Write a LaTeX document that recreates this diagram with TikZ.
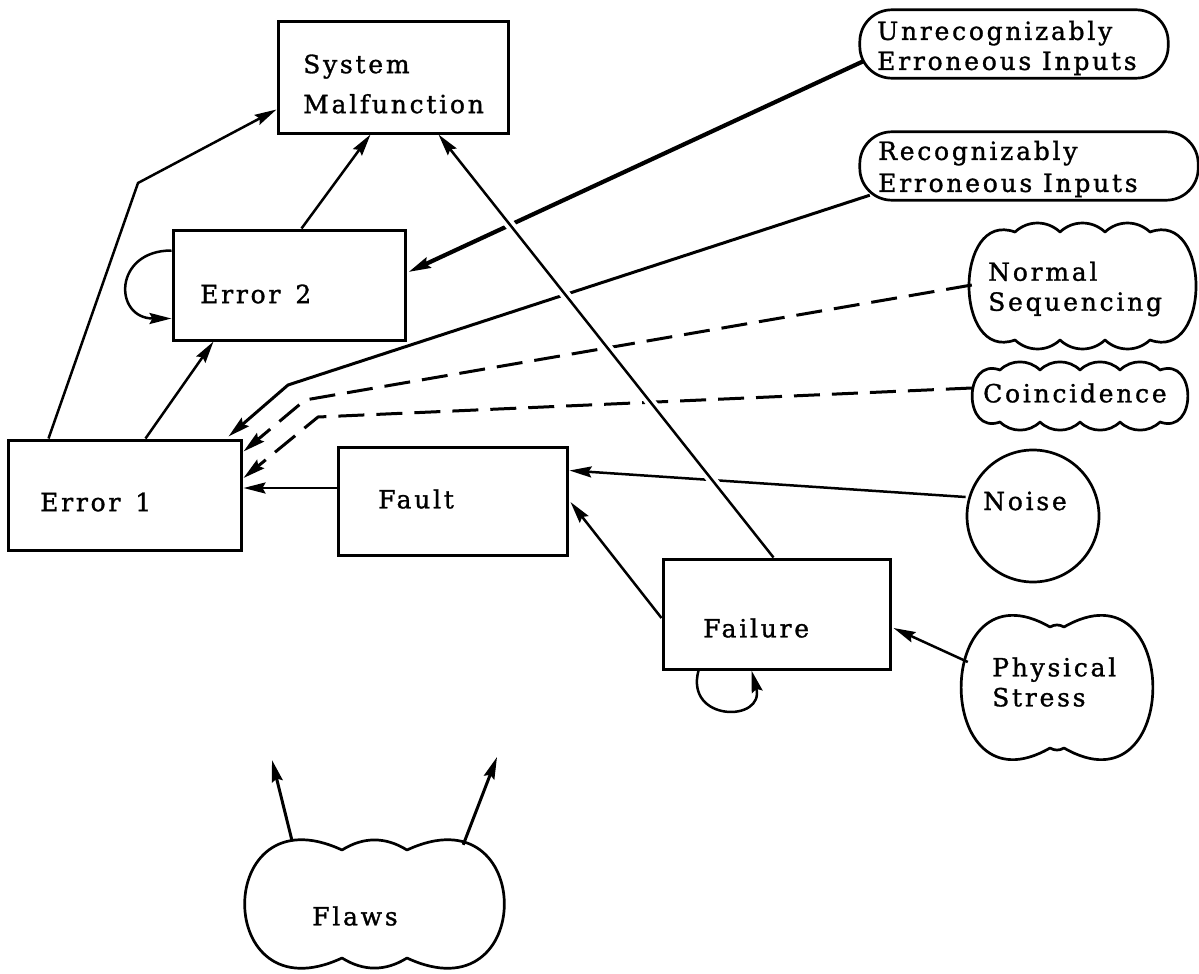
\documentclass[tikz,border=0pt]{standalone}
\usepackage{fontspec}
\setmainfont{DejaVu Serif}[LetterSpace=11, FakeBold=1.2]
\usetikzlibrary{arrows.meta,calc}

\tikzset{
  box/.style={draw, line width=3pt, inner sep=0pt},
  area/.style={inner sep=0pt},
  lbl/.style={inner sep=0pt, anchor=west, align=left, font=\fontsize{25}{30}\selectfont},
  cloudline/.style={line width=2.7pt, line join=round},
  arr/.style={-{Stealth[length=22pt,width=11pt,inset=3pt]}},
  conn/.style={line width=2.5pt, arr},
  heavy/.style={line width=4.2pt, arr},
  dashconn/.style={line width=3pt, dash pattern=on 26pt off 12pt, arr},
}

% puffy outline: top bumps from (xa,ya) to (xb,ya), bottom bumps back from (xb,yb),
% rounded lobes at both ends
\newcommand{\puffoutline}[8]{%
  \pgfmathsetmacro\pfa{180+#7}\pgfmathsetmacro\pfb{180-#7}\pgfmathsetmacro\pfc{-#7}%
  \draw[cloudline] (#1,#2)
    \foreach \k in {1,...,#5}{ to[bend left=#6] ({#1+\k*(#3-#1)/#5},#2) }
    to[out=#7,in=\pfc,looseness=#8] (#3,#4)
    \foreach \k in {1,...,#5}{ to[bend left=#6] ({#3-\k*(#3-#1)/#5},#4) }
    to[out=\pfa,in=\pfb,looseness=#8] cycle;
}

\begin{document}
\begin{tikzpicture}[x=1pt,y=-1pt]
\path[fill=white, use as bounding box] (0,0) rectangle (1199,974);

% rectangular states
\node[box, minimum width=230, minimum height=111] (sm) at (393,77.5) {};
\node[box, minimum width=232, minimum height=110] (e2) at (289,285) {};
\node[box, minimum width=233, minimum height=110] (e1) at (124.5,495) {};
\node[box, minimum width=229, minimum height=108] (fault) at (452.5,501) {};
\node[box, minimum width=227, minimum height=110] (failure) at (776.5,614) {};

% source areas (outlines drawn below)
\node[area, minimum width=308, minimum height=68] (ui) at (1014,44) {};
\node[area, minimum width=338, minimum height=68] (ri) at (1029,166) {};
\node[area, minimum width=226, minimum height=124] (ns) at (1085,285) {};
\node[area, minimum width=215, minimum height=68] (co) at (1079.5,396) {};
\node[draw, circle, line width=2.7pt, minimum size=132, inner sep=0pt] (noise) at (1033,516) {};
\node[area, minimum width=193, minimum height=140] (ps) at (1061.5,687) {};
\node[area, minimum width=265, minimum height=132] (flaws) at (374.5,904) {};

% outlines of the sources
\draw[cloudline, rounded corners=32pt] (ui.north west) rectangle (ui.south east);
\draw[cloudline, rounded corners=32pt] (ri.north west) rectangle (ri.south east);
\puffoutline{1015}{232}{1150}{340}{3}{43}{20}{1.55}
\puffoutline{1000}{370}{1160}{422}{4}{44}{20}{1.95}
\puffoutline{1050}{627}{1064}{748}{1}{30}{30}{2.9}
\puffoutline{342}{850}{407}{958}{1}{32}{25}{3.4}

% labels
\node[lbl, font=\fontsize{25}{40}\selectfont] (smt) at (303,84) {System\\Malfunction};
\node[lbl] (e2t) at (200,294) {Error\hspace{15pt}2};
\node[lbl] (e1t) at (40,502) {Error\hspace{15pt}1};
\node[lbl] (ft) at (378,499) {Fault};
\node[lbl] (flt) at (703,628) {Failure};
\node[lbl] (uit) at (877,48) {Unrecognizably\\Erroneous Inputs};
\node[lbl, font=\fontsize{25}{32}\selectfont] (rit) at (878,169) {Recognizably\\Erroneous Inputs};
\node[lbl] (nst) at (988,289) {Normal\\Sequencing};
\node[lbl] (cot) at (983,393) {Coincidence};
\node[lbl] (nt) at (983,501) {Noise};
\node[lbl] (pst) at (992,682) {Physical\\Stress};
\node[lbl] (flawst) at (312,916) {Flaws};

% connectors
\draw[conn] ($(e1.north west)+(42,0)$) -- (138,183) -- ($(sm.west)+(0,32)$);
\draw[conn] ($(e2.north west)+(130,0)$) -- ($(sm.south west)+(94,0)$);
\draw[conn] ($(e2.north west)+(0,22)$) to[out=180,in=180,looseness=2.2] ($(e2.south west)+(0,-23)$);
\draw[conn] ($(e1.north west)+(139,0)$) -- ($(e2.south west)+(42,0)$);
\draw[heavy] ($(ui.west)+(4,17)$) -- ($(e2.east)+(2,-13)$);
\draw[conn, line width=3pt] ($(ri.south west)+(10,-5)$) -- (288,385) -- ($(e1.north east)+(-14,-2)$);
\draw[dashconn] (ns.west) -- (305,400) -- ($(e1.north east)+(1,13)$);
\draw[dashconn] ($(co.west)+(0,-8)$) -- (318,417) -- ($(e1.east)+(1,-17)$);
\draw[conn] ($(fault.west)+(0,-13)$) -- ($(e1.east)+(1,-7)$);
\draw[conn] ($(noise.west)+(0,-19)$) -- ($(fault.north east)+(1,25)$);
\draw[conn] ($(failure.west)+(0,4)$) -- ($(fault.east)+(2,1)$);
\draw[conn] ($(ps.west)+(3,-25)$) -- ($(failure.east)+(2,14)$);
\draw[conn] ($(failure.south west)+(37,0)$) to[out=-105,in=-75,looseness=2.6] ($(failure.south west)+(90,0)$);
\draw[conn, line width=3pt] ($(flaws.north west)+(50,2)$) -- (272,760);
\draw[conn, line width=3pt] ($(flaws.north east)+(-44,7)$) -- (497,757);
\draw[conn, preaction={draw=white, line width=10pt, shorten <=25pt, shorten >=25pt, arrows=-}]
  ($(failure.north west)+(112,0)$) -- ($(sm.south east)+(-71,0)$);
\end{tikzpicture}
\end{document}
